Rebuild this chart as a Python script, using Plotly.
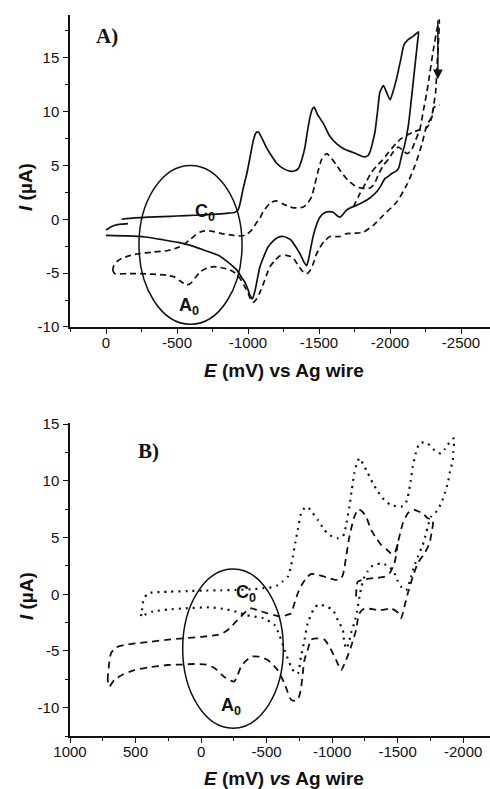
import plotly.graph_objects as go

# ---------------- Panel A data ----------------
a_solid_E = [0, -30, -63, -110, -155, None,
             -110, -200, -300, -400, -500, -627, -750, -850, -908, -930, -944, -965, -991, -1015, -1037,
             -1055, -1073, -1095, -1132, -1170, -1202, -1250, -1296, -1330, -1354, -1380, -1401, -1420,
             -1437, -1452, -1465, -1490, -1530, -1577, -1625, -1680, -1741, -1812, -1845, -1859, -1875,
             -1894, -1912, -1929, -1953, -1975, -2000, -2020, -2047, -2075, -2099, -2129, -2165, -2200,
             -2195, -2180, -2164, -2145, -2129, -2105, -2082, -2059, -2035, -2012, -1990, -1965, -1935,
             -1906, -1860, -1812, -1765, -1718, -1690, -1665, -1648, -1630, -1600, -1577, -1540, -1507,
             -1480, -1460, -1440, -1425, -1413, -1395, -1370, -1343, -1300, -1249, -1210, -1178, -1140,
             -1110, -1084, -1065, -1050, -1037, -1030, -1015, -1002, -980, -955, -920, -861, -800, -697,
             -600, -509, -400, -275, -150, 0]
a_solid_I = [-1.0, -0.75, -0.56, -0.45, -0.4, None,
             0.0, 0.12, 0.2, 0.25, 0.3, 0.37, 0.45, 0.55, 0.65, 0.85, 1.46, 2.8, 4.2, 5.8, 7.3,
             8.0, 8.1, 7.6, 6.6, 5.8, 5.2, 4.7, 4.46, 4.5, 4.7, 5.6, 6.7, 8.3,
             9.5, 10.2, 10.4, 9.7, 8.9, 7.7, 7.0, 6.5, 6.2, 5.8, 5.9, 6.25, 7.0,
             8.1, 10.0, 11.8, 12.4, 11.8, 11.1, 11.8, 13.1, 14.8, 16.2, 16.7, 17.0, 17.4,
             16.6, 14.8, 12.8, 10.5, 8.7, 7.0, 5.9, 4.7, 4.4, 4.25, 4.0, 3.8, 3.1,
             2.55, 2.0, 1.6, 1.3, 1.05, 0.8, 0.4, 0.2, 0.3, 0.65, 0.7, 0.6, 0.2,
             -0.6, -1.5, -2.8, -3.8, -4.3, -4.0, -3.3, -2.7, -1.9, -1.6, -1.7, -2.0, -2.6,
             -3.5, -4.4, -5.6, -6.6, -7.2, -7.4, -7.1, -6.6, -5.9, -5.4, -4.7, -4.0, -3.4, -2.9,
             -2.45, -2.15, -1.9, -1.65, -1.55, -1.5]

a_dash_E = [-63, -50, -55, -80, -110, -160, -228, -330, -439, -510, -556, -595, -627, -660, -697, -740,
            -815, -900, -955, -991, -1026, -1061, -1084, -1110, -1132, -1160, -1202, -1250, -1296, -1340,
            -1390, -1420, -1448, -1470, -1495, -1520, -1554, -1590, -1625, -1660, -1706, -1765, -1824,
            -1860, -1890, -1920, -1953, -1990, -2023, -2059, -2090, -2120, -2150, -2176, -2211, -2235,
            -2258, -2275, -2300, -2330, -2347,
            -2340, -2330, -2321, -2305, -2293, -2275, -2258, -2223, -2176, -2117, -2047, -1953, -1882,
            -1812, -1750, -1695, -1648, -1600, -1577, -1540, -1507, -1480, -1460, -1435, -1413, -1390,
            -1354, -1330, -1308, -1270, -1225, -1190, -1155, -1130, -1108, -1080, -1055, -1037, -1020,
            -1002, -970, -944, -910, -873, -815, -756, -700, -662, -630, -600, -568, -530, -480, -427,
            -330, -239, -150, -63, None,
            -1742, -1777, -1830, -1871, -1910, -1940, -1990, -2040, -2080, -2117, -2165, -2211, -2250,
            -2275, -2295, -2310, -2350]
a_dash_I = [-5.05, -4.8, -4.3, -3.9, -3.65, -3.4, -3.2, -3.05, -2.9, -2.6, -2.26, -1.85, -1.5, -1.2, -1.08, -1.1,
            -1.33, -1.5, -1.55, -1.4, -1.0, -0.3, 0.1, 0.8, 1.14, 1.55, 1.7, 1.4, 1.14, 1.05,
            1.14, 1.5, 2.08, 3.2, 4.55, 5.6, 6.1, 5.6, 5.0, 4.3, 3.6, 3.0, 2.85,
            2.9, 3.3, 4.2, 5.0, 5.6, 6.25, 6.7, 6.4, 6.1, 6.4, 7.2, 8.4, 10.1,
            11.7, 13.1, 15.3, 17.6, 18.5,
            16.3, 14.0, 11.8, 10.4, 9.5, 9.1, 8.7, 6.9, 5.0, 3.16, 1.6, 0.37, -0.56,
            -1.2, -1.3, -1.33, -1.6, -1.6, -1.6, -2.0, -2.6, -3.3, -4.1, -4.8, -5.05, -4.9,
            -4.3, -3.8, -3.5, -3.35, -3.4, -3.8, -4.4, -5.2, -6.0, -6.9, -7.5, -7.7, -7.5,
            -6.9, -6.1, -5.5, -5.0, -4.7, -4.5, -4.4, -4.6, -4.9, -5.4, -5.9, -6.1, -5.8, -5.35, -5.2,
            -5.1, -5.05, -5.05, -5.05, None,
            1.14, 2.1, 3.4, 4.4, 5.0, 5.4, 6.2, 7.0, 7.5, 7.8, 8.1, 8.3, 8.4,
            8.8, 9.5, 10.4, 10.6]

# ---------------- Panel B data ----------------
b_dot_E = [458, 450, 445, 430, 407, 370, 300, 242, 100, -13, -150, -267, -400, -471, -540, -585, -620, -662,
           -685, -700, -720, -738, -763, -790, -814, -850, -891, -940, -979, -1043, -1080, -1094, -1110,
           -1132, -1150, -1170, -1190, -1209, -1240, -1272, -1310, -1349, -1400, -1450, -1527, -1560, -1578,
           -1600, -1616, -1640, -1667, -1700, -1730, -1781, -1832, -1860, -1883, -1929,
           -1925, -1921, -1900, -1883, -1860, -1832, -1790, -1756, -1730, -1718, -1690, -1654, -1628, -1603,
           -1580, -1565, -1540, -1527, -1500, -1476, -1438, -1400, -1374, -1330, -1298, -1270, -1247, -1225,
           -1209, -1190, -1170, -1145, -1125, -1107, -1090, -1082, -1043, -1005, -960, -916, -891, -860,
           -814, -790, -763, -738, -715, -687, -640, -598, -560, -471, -400, -344, -270, -191, -64, 115,
           250, 369, 430, 458]
b_dot_I = [-2.0, -1.4, -0.8, -0.3, 0.09, 0.15, 0.2, 0.23, 0.28, 0.32, 0.35, 0.38, 0.45, 0.53, 0.62, 0.8, 1.1, 1.55,
           2.4, 3.3, 4.6, 5.67, 7.1, 7.6, 7.7, 7.2, 6.55, 5.7, 5.23, 4.94, 5.1, 5.38, 6.3,
           7.72, 9.2, 10.7, 11.6, 12.0, 11.4, 10.7, 9.8, 9.05, 8.3, 7.87, 7.72, 8.0, 8.6,
           10.0, 11.25, 12.5, 13.3, 13.4, 13.3, 12.7, 12.4, 12.8, 13.2, 13.75,
           12.5, 11.8, 10.8, 9.8, 8.9, 8.0, 7.2, 6.85, 6.0, 5.4, 4.3, 3.3, 2.5, 1.55,
           0.7, 0.38, 0.45, 0.67, 1.2, 1.85, 2.43, 2.65, 2.73, 2.6, 2.43, 2.0, 1.55, 0.7,
           -0.2, -1.5, -2.5, -3.4, -4.4, -4.8, -4.0, -3.15, -2.27, -1.38, -1.1, -0.94, -0.94, -1.3,
           -2.56, -4.0, -5.5, -7.0, -6.9, -6.4, -5.0, -3.6, -2.7, -2.1, -1.95, -1.83, -1.55, -1.33, -1.15, -1.24,
           -1.35, -1.53, -1.8, -2.0]

b_dash_E = [700, 712, 705, 687, 650, 585, 480, 382, 250, 127, 0, -127, -170, -204, -230, -254, -305, -345,
            -382, -440, -509, -560, -611, -650, -687, -710, -738, -776, -810, -840, -900, -954, -1031, -1065,
            -1082, -1095, -1107, -1132, -1150, -1170, -1201, -1230, -1260, -1298, -1340, -1374, -1420, -1450,
            -1476, -1501, -1520, -1540, -1578, -1600, -1628, -1660, -1692, -1730, -1769,
            -1768, -1763, -1743, -1705, -1654, -1616, -1578, -1552, -1527, -1500, -1450, -1400, -1349, -1300,
            -1247, -1209, -1195, -1183, -1145, -1107, -1069, -1050, -1031, -992, -941, -891, -840, -814, -789,
            -776, -760, -738, -710, -687, -660, -636, -585, -509, -440, -382, -340, -305, -280, -254, -225,
            -178, -102, -40, 51, 150, 254, 400, 509, 600, 662, 700, None,
            -1183, -1196, -1250, -1298, -1350, -1400, -1438, -1476, -1501]
b_dash_I = [-8.15, -7.6, -6.5, -5.2, -4.7, -4.47, -4.3, -4.18, -4.0, -3.88, -3.75, -3.59, -3.4, -3.15, -2.9, -2.56, -1.97, -1.5,
            -1.24, -1.45, -1.68, -1.85, -1.97, -1.85, -1.68, -0.9, 0.09, 0.97, 1.5, 1.79, 1.7, 1.5, 1.26, 1.35,
            1.7, 2.4, 3.3, 5.08, 6.0, 6.84, 7.5, 7.3, 6.84, 5.67, 4.9, 4.35, 3.9, 3.6,
            3.6, 4.5, 5.4, 6.26, 7.14, 7.35, 7.43, 7.3, 7.14, 6.7, 6.55,
            6.0, 5.67, 4.5, 3.6, 2.73, 1.55, 0.09, -1.1, -2.1, -1.6, -1.24, -1.35, -1.38, -1.3,
            -1.24, -1.68, -2.3, -3.15, -4.6, -5.8, -6.7, -6.3, -5.8, -4.9, -4.0, -3.9, -4.0, -4.9, -5.8,
            -7.0, -8.5, -9.3, -9.4, -9.3, -8.6, -7.85, -6.7, -5.8, -5.5, -5.5, -5.9, -6.4, -7.1, -7.7, -7.6,
            -7.3, -6.5, -6.2, -6.15, -6.2, -6.24, -6.45, -6.7, -7.1, -7.56, -8.15, None,
            -0.2, 1.1, 1.3, 1.4, 1.45, 1.55, 1.85, 2.73, 4.5]

# ticks
a_xticks = [0, -500, -1000, -1500, -2000, -2500]
a_xtext = ["0", "-500", "-1000", "-1500", "-2000", "-2500"]
a_yticks = [-10, -5, 0, 5, 10, 15]
a_ytext = ["-10", "-5", "0", "5", "10", "15"]
b_xticks = [1000, 500, 0, -500, -1000, -1500, -2000]
b_xtext = ["1000", "500", "0", "-500", "-1000", "-1500", "-2000"]
b_yticks = [-10, -5, 0, 5, 10, 15]
b_ytext = ["-10", "-5", "0", "5", "10", "15"]

BLACK = "#111111"
fig = go.Figure()
fig.add_trace(go.Scatter(x=a_solid_E, y=a_solid_I, mode="lines", xaxis="x", yaxis="y",
                         line=dict(color=BLACK, width=1.7, shape="spline", smoothing=0.6), showlegend=False))
fig.add_trace(go.Scatter(x=a_dash_E, y=a_dash_I, mode="lines", xaxis="x", yaxis="y",
                         line=dict(color=BLACK, width=1.7, dash="6px,4px", shape="spline", smoothing=0.6),
                         showlegend=False))
fig.add_trace(go.Scatter(x=b_dot_E, y=b_dot_I, mode="lines", xaxis="x2", yaxis="y2",
                         line=dict(color=BLACK, width=2.2, dash="2px,5px", shape="spline", smoothing=0.6),
                         showlegend=False))
fig.add_trace(go.Scatter(x=b_dash_E, y=b_dash_I, mode="lines", xaxis="x2", yaxis="y2",
                         line=dict(color=BLACK, width=1.8, dash="7px,5px", shape="spline", smoothing=0.6),
                         showlegend=False))

tickfont = dict(family="Liberation Sans, Arial, sans-serif", size=15, color=BLACK)
axis_common = dict(showline=True, linecolor=BLACK, linewidth=1.5, ticks="outside", ticklen=5,
                   tickwidth=1.3, tickcolor=BLACK, showgrid=False, zeroline=False, tickfont=tickfont,
                   mirror=False, automargin=False)

fig.update_layout(
    template="none",
    width=490, height=789,
    margin=dict(l=70, r=0, t=15, b=53, autoexpand=False),
    paper_bgcolor="white", plot_bgcolor="white",
    xaxis=dict(domain=[0, 1], anchor="y", range=[253.5, -2704], tickvals=a_xticks, ticktext=a_xtext,
               ticklabelstandoff=-4,
               minor=dict(dtick=250, tick0=0, ticks="outside", ticklen=3, tickcolor=BLACK), **axis_common),
    yaxis=dict(domain=[0.5673, 1.0], anchor="x", range=[-10, 18.96], tickvals=a_yticks, ticktext=a_ytext,
               ticklabelstandoff=1,
               minor=dict(dtick=2.5, tick0=0, ticks="outside", ticklen=3, tickcolor=BLACK), **axis_common),
    xaxis2=dict(domain=[0, 1], anchor="y2", range=[1000, -2205], tickvals=b_xticks, ticktext=b_xtext,
                ticklabelstandoff=-4,
                minor=dict(dtick=250, tick0=0, ticks="outside", ticklen=3, tickcolor=BLACK), **axis_common),
    yaxis2=dict(domain=[0, 0.4341], anchor="x2", range=[-12.5, 15.1], tickvals=b_yticks, ticktext=b_ytext,
                ticklabelstandoff=1,
                minor=dict(dtick=2.5, tick0=0, ticks="outside", ticklen=3, tickcolor=BLACK), **axis_common),
)

# ellipses
fig.add_shape(type="circle", xref="x", yref="y", x0=-232, x1=-958, y0=-9.75, y1=5.0,
              line=dict(color=BLACK, width=1.5))
fig.add_shape(type="circle", xref="x2", yref="y2", x0=140, x1=-628, y0=-11.82, y1=2.23,
              line=dict(color=BLACK, width=1.5))

# arrow in panel A
fig.add_annotation(x=-2337, y=13.0, ax=-2337, ay=18.6, xref="x", yref="y", axref="x", ayref="y",
                   showarrow=True, arrowhead=2, arrowsize=1.3, arrowwidth=1.5, arrowcolor=BLACK, text="")

bold = "Liberation Sans, Arial, sans-serif"
lab = dict(family=bold, size=18, color=BLACK)
ctr = dict(showarrow=False, xanchor="center", yanchor="middle")
fig.add_annotation(x=-697, y=0.6, xref="x", yref="y", text="<b>C<sub>0</sub></b>", font=lab, **ctr)
fig.add_annotation(x=-585, y=-8.1, xref="x", yref="y", text="<b>A<sub>0</sub></b>", font=lab, **ctr)
fig.add_annotation(x=-343, y=0.1, xref="x2", yref="y2", text="<b>C<sub>0</sub></b>", font=lab, **ctr)
fig.add_annotation(x=-229, y=-9.9, xref="x2", yref="y2", text="<b>A<sub>0</sub></b>", font=lab, **ctr)

# panel labels
plab = dict(family="Liberation Serif, Times New Roman, serif", size=21, color=BLACK)
fig.add_annotation(x=0.088, y=0.971, xref="paper", yref="paper", text="<b>A)</b>", font=plab, **ctr)
fig.add_annotation(x=0.187, y=0.395, xref="paper", yref="paper", text="<b>B)</b>", font=plab, **ctr)

# axis titles
tfont = dict(family=bold, size=19, color=BLACK)
fig.add_annotation(x=0.5095, y=0.5076, xref="paper", yref="paper", text="<b><i>E</i> (mV) vs Ag wire</b>",
                   font=tfont, **ctr)
fig.add_annotation(x=0.5095, y=-0.0583, xref="paper", yref="paper", text="<b><i>E</i> (mV) <i>vs</i> Ag wire</b>",
                   font=tfont, **ctr)
fig.add_annotation(x=-0.1048, y=0.7615, xref="paper", yref="paper", text="<b><i>I</i> (µA)</b>",
                   font=tfont, textangle=-90, **ctr)
fig.add_annotation(x=-0.1048, y=0.194, xref="paper", yref="paper", text="<b><i>I</i> (µA)</b>",
                   font=tfont, textangle=-90, **ctr)

fig.write_html("out.html", config={"displayModeBar": False},
               post_script="document.body.style.margin='0';document.body.style.padding='0';"
                           "document.body.style.overflow='hidden';")
